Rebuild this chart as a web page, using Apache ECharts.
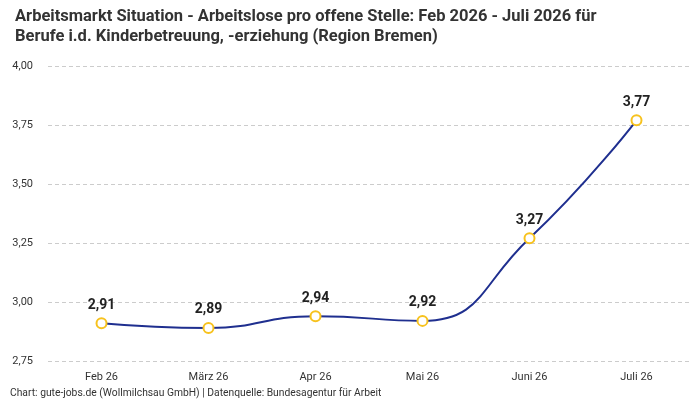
<!DOCTYPE html>
<html><head><meta charset="utf-8">
<script src="https://cdn.jsdelivr.net/npm/echarts@6/dist/echarts.min.js"></script>
<style>html,body{margin:0;padding:0;background:#fff}#c{width:700px;height:400px}</style>
</head><body><div id="c"></div>
<script>
const categories = ['Feb 26', 'März 26', 'Apr 26', 'Mai 26', 'Juni 26', 'Juli 26'];
const values = [2.91, 2.89, 2.94, 2.92, 3.27, 3.77];
const yTicks = [2.75, 3.00, 3.25, 3.50, 3.75, 4.00];
const fmt = v => v.toFixed(2).replace('.', ',');
const chart = echarts.init(document.getElementById('c'));
chart.setOption({
  animation: false,
  textStyle: { fontFamily: 'Roboto, "Noto Sans", sans-serif' },
  title: {
    text: 'Arbeitsmarkt Situation - Arbeitslose pro offene Stelle: Feb 2026 - Juli 2026 für\nBerufe i.d. Kinderbetreuung, -erziehung (Region Bremen)',
    left: 10, top: 2,
    textStyle: { fontSize: 16.5, fontWeight: 'bold', color: '#333', lineHeight: 20, fontFamily: 'Roboto, sans-serif' }
  },
  graphic: [{
    type: 'text', left: 10, top: 388,
    style: { text: 'Chart: gute-jobs.de (Wollmilchsau GmbH) | Datenquelle: Bundesagentur für Arbeit', fontSize: 10.3, fill: '#333', fontFamily: 'Roboto, sans-serif' }
  }],
  grid: { left: 48, right: 10, top: 66, bottom: 39 },
  xAxis: {
    type: 'category', data: categories, boundaryGap: true,
    axisLine: { show: false }, axisTick: { show: false },
    axisLabel: { color: '#333', fontSize: 11, margin: 11 }
  },
  yAxis: {
    type: 'value', min: yTicks[0], max: yTicks[yTicks.length - 1], interval: 0.25,
    axisLabel: { formatter: fmt, color: '#333', fontSize: 11, margin: 15 },
    splitLine: { lineStyle: { type: [4, 3], color: '#ccc' } },
    axisLine: { show: false }, axisTick: { show: false }
  },
  series: [{
    type: 'line', data: values, smooth: true,
    lineStyle: { color: '#1f2f8f', width: 2 },
    symbol: 'circle', symbolSize: 10,
    itemStyle: { color: '#fff', borderColor: '#f7c21e', borderWidth: 2 },
    label: { show: true, position: 'top', formatter: p => fmt(p.value), fontSize: 14, fontWeight: 'bold', color: '#222', distance: 5 }
  }]
});
</script></body></html>
